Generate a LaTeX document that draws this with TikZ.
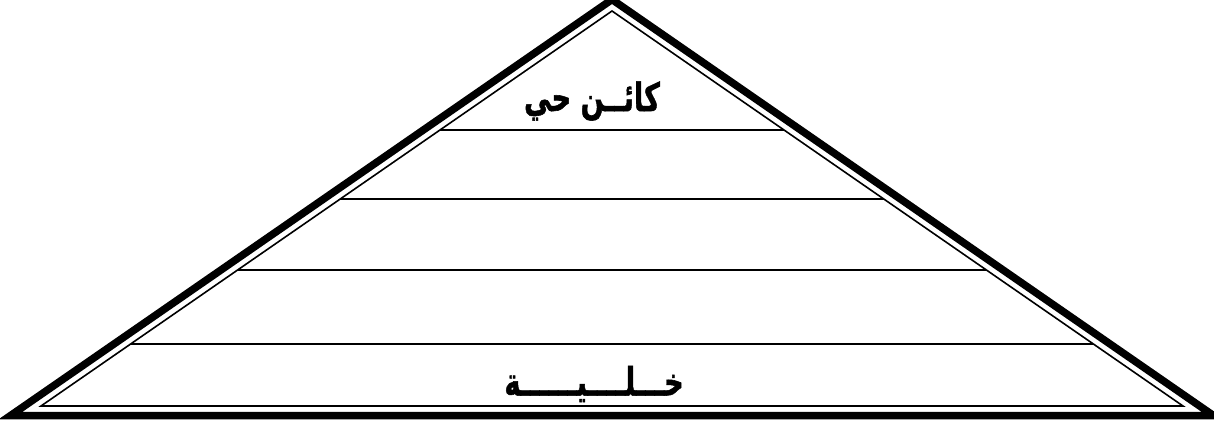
\documentclass[tikz,border=0pt]{standalone}
\usepackage{fontspec}
\newfontfamily\arabicfont[Script=Arabic,BoldFeatures={FakeBold=1.5}]{DejaVu Sans}
\TeXXeTstate=1
\begin{document}
\begin{tikzpicture}[x=1pt,y=-1pt,
  thickedge/.style={line width=7.5pt,line join=miter,miter limit=20},
  thinedge/.style={line width=1.6pt,line join=miter,miter limit=20},
  level/.style={line width=1.5pt},
  label/.style={font=\arabicfont\bfseries\fontsize{34}{40}\selectfont,inner sep=0pt}]
\useasboundingbox (0,0) rectangle (1214,423);
\fill[white] (0,0) rectangle (1214,423);
% outer thick triangle
\draw[thickedge] (10.6,415.5) -- (612,-0.5) -- (1213.4,415.5) -- cycle;
% inner thin triangle
\draw[thinedge] (41,406) -- (612,11) -- (1183,406) -- cycle;
% level lines
\draw[level] (440,130) -- (784,130);
\draw[level] (340,199) -- (884,199);
\draw[level] (238,270) -- (986,270);
\draw[level] (131,344) -- (1093,344);
% labels
\node[label] (top) at (592,101) {\scalebox{0.8}[1.15]{\beginR كائــن حي\endR}};
\node[label] (bottom) at (594,384) {\scalebox{0.8}[1.15]{\beginR خـــلــــيــــــة\endR}};
\end{tikzpicture}
\end{document}
